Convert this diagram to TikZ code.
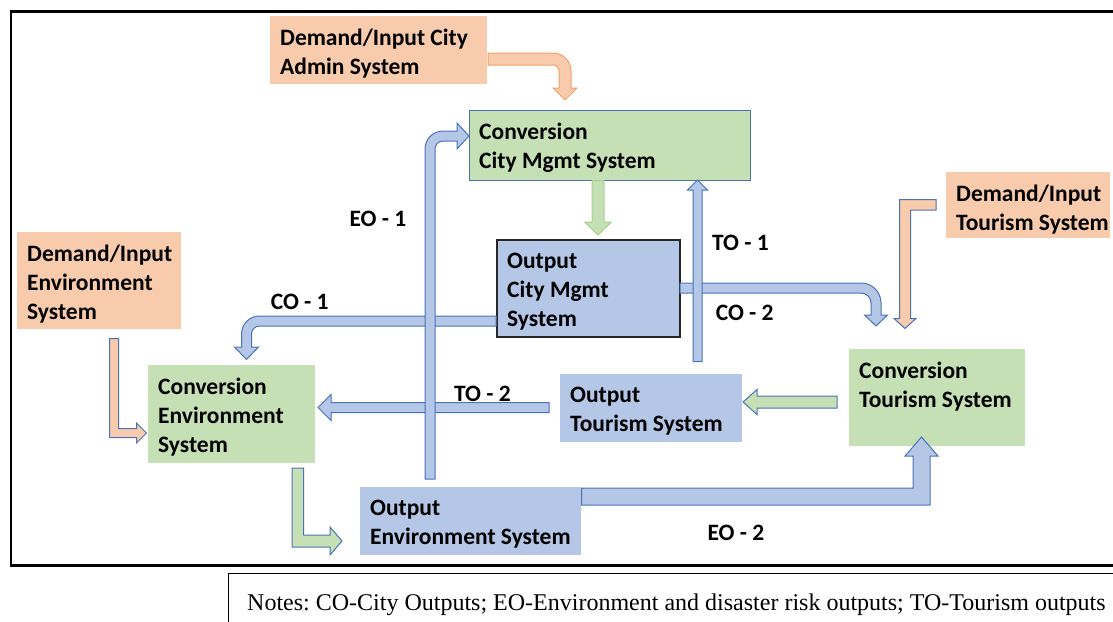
\documentclass[tikz,border=0pt]{standalone}
\usepackage{fontspec}
\setmainfont{Carlito}
\newfontfamily\notesfont{Liberation Serif}
\definecolor{orangefill}{HTML}{F8CBAD}
\definecolor{greenfill}{HTML}{C5E0B4}
\definecolor{bluefill}{HTML}{B4C7E7}
\definecolor{blueedge}{HTML}{4A72B8}
\definecolor{orangeedge}{HTML}{F2A06A}
\definecolor{greenedge}{HTML}{A9D18E}
\definecolor{darkedge}{HTML}{262626}
\newcommand\topstrut{\rule{0pt}{20pt}}
\frenchspacing
\begin{document}
\begin{tikzpicture}[x=1pt,y=-1pt,
  sysbox/.style={anchor=north west, inner sep=0pt, outer sep=0pt, draw=none},
  boxtext/.style={anchor=north west, inner sep=0pt, align=left,
    font=\fontsize{23.5}{29}\selectfont\bfseries, execute at begin node=\topstrut},
  flowlabel/.style={anchor=base, inner sep=0pt, font=\fontsize{23.5}{29}\selectfont\bfseries},
  bluearrow/.style={fill=bluefill, draw=blueedge, line width=1pt, line join=miter},
  greenarrow/.style={fill=greenfill, draw=blueedge, line width=1pt, line join=miter},
  greenarrowg/.style={fill=greenfill, draw=greenedge, line width=1pt, line join=miter},
  orangearrow/.style={fill=orangefill, draw=blueedge, line width=1pt, line join=miter},
  orangearrowo/.style={fill=orangefill, draw=orangeedge, line width=1pt, line join=miter}]
\useasboundingbox (0,0) rectangle (1113,621);

% outer frame and notes box
\draw[line width=2.2pt] (1114,11.5) -- (11,11.5) -- (11,565.5) -- (1114,565.5);
\draw[line width=1pt] (228.5,622) -- (228.5,573.5) -- (1114,573.5);

% system boxes
\node[sysbox, fill=orangefill, minimum width=217, minimum height=68] (admin) at (270,16) {};
\node[sysbox, fill=greenfill, draw=blueedge, line width=0.9pt, minimum width=281, minimum height=70] (ccity) at (469,110) {};
\node[sysbox, fill=bluefill, draw=darkedge, line width=1.2pt, minimum width=183, minimum height=97] (ocity) at (497,240) {};
\node[sysbox, fill=orangefill, minimum width=164, minimum height=66] (dtour) at (946,172) {};
\node[sysbox, fill=orangefill, minimum width=164, minimum height=97] (denv) at (17,232) {};
\node[sysbox, fill=greenfill, minimum width=167, minimum height=98] (cenv) at (148,365) {};
\node[sysbox, fill=bluefill, minimum width=182, minimum height=68] (otour) at (560,374) {};
\node[sysbox, fill=greenfill, minimum width=176, minimum height=97] (ctour) at (849,349) {};
\node[sysbox, fill=bluefill, minimum width=221, minimum height=68] (oenv) at (360,487) {};

% box texts
\node[boxtext] (admin-t) at ([shift={(10,12.5)}]admin.north west) {Demand/Input City\\Admin System};
\node[boxtext] (ccity-t) at ([shift={(10,12.5)}]ccity.north west) {Conversion\\City Mgmt System};
\node[boxtext] (ocity-t) at ([shift={(10,12.5)}]ocity.north west) {Output\\City Mgmt\\System};
\node[boxtext] (dtour-t) at ([shift={(10,12.5)}]dtour.north west) {Demand/Input\\Tourism System};
\node[boxtext] (denv-t) at ([shift={(10,12.5)}]denv.north west) {Demand/Input\\Environment\\System};
\node[boxtext] (cenv-t) at ([shift={(10,12.5)}]cenv.north west) {Conversion\\Environment\\System};
\node[boxtext] (otour-t) at ([shift={(10,12.5)}]otour.north west) {Output\\Tourism System};
\node[boxtext] (ctour-t) at ([shift={(10,12.5)}]ctour.north west) {Conversion\\Tourism System};
\node[boxtext] (oenv-t) at ([shift={(10,12.5)}]oenv.north west) {Output\\Environment System};

% admin demand -> city conversion (bent)
\draw[orangearrowo] (488,53) -- (553,53) .. controls (562.9,53) and (571,61.1) .. (571,71)
  -- (571,88) -- (577,88) -- (565,100) -- (553,88) -- (559,88) -- (559,71)
  .. controls (559,67.7) and (556.3,65) .. (553,65) -- (488,65) -- cycle;

% city conversion -> city output
\draw[greenarrowg] (592,180.5) -- (592,222) -- (584.5,222) -- (598,235) -- (611.5,222) -- (604,222) -- (604,180.5) -- cycle;

% CO-1: city output -> environment conversion
\draw[bluearrow] (496,316) -- (259.5,316) .. controls (249.56,316) and (241.5,324.06) .. (241.5,334)
  -- (241.5,347) -- (234.5,347) -- (246.5,359.5) -- (258.5,347) -- (251.5,347) -- (251.5,334)
  .. controls (251.5,329.58) and (255.08,326) .. (259.5,326) -- (496,326) -- cycle;

% TO-2: tourism output -> environment conversion
\draw[bluearrow] (549,402.5) -- (331,402.5) -- (331,394.5) -- (318,407.5) -- (331,420.5) -- (331,412.5) -- (549,412.5) -- cycle;

% EO-1: environment output -> city conversion
\draw[bluearrow] (425,479) -- (425,149) .. controls (425,139.06) and (433.06,131) .. (443,131)
  -- (457,131) -- (457,123) -- (469,136) -- (457,149) -- (457,141) -- (443,141)
  .. controls (438.58,141) and (435,144.58) .. (435,149) -- (435,479) -- cycle;

% CO-2: city output -> tourism conversion
\draw[bluearrow] (680,283) -- (861,283) .. controls (872.04,283) and (881,291.96) .. (881,303)
  -- (881,315) -- (887.5,315) -- (876,326) -- (864.5,315) -- (871,315) -- (871,303)
  .. controls (871,297.48) and (866.52,293) .. (861,293) -- (680,293) -- cycle;

% TO-1: tourism output -> city conversion
\draw[bluearrow] (693,361.5) -- (693,190) -- (687.5,190) -- (697.5,180) -- (707.5,190) -- (702,190) -- (702,361.5) -- cycle;

% tourism conversion -> tourism output
\draw[greenarrow] (837,396) -- (757,396) -- (757,389.5) -- (743,402) -- (757,414.5) -- (757,408) -- (837,408) -- cycle;

% EO-2: environment output -> tourism conversion
\draw[bluearrow] (581.5,488) -- (913,488) -- (913,456) -- (905,456) -- (921.5,437) -- (938,456) -- (930,456) -- (930,505) -- (581.5,505) -- cycle;

% environment conversion -> environment output
\draw[greenarrow] (292,468) -- (292,547) -- (330,547) -- (330,555) -- (342,541) -- (330,527) -- (330,535) -- (303.5,535) -- (303.5,468) -- cycle;

% environment demand -> environment conversion
\draw[orangearrow] (109.5,338.5) -- (109.5,437.5) -- (136.5,437.5) -- (136.5,443) -- (146.5,433) -- (136.5,423) -- (136.5,428.5) -- (118.5,428.5) -- (118.5,338.5) -- cycle;

% tourism demand -> tourism conversion
\draw[orangearrow] (936,199.5) -- (899.5,199.5) -- (899.5,318.5) -- (894,318.5) -- (905,328.5) -- (916,318.5) -- (910.5,318.5) -- (910.5,210) -- (936,210) -- cycle;

% flow labels
\node[flowlabel] (l-eo1) at (378,226) {EO - 1};
\node[flowlabel] (l-to1) at (740.5,250) {TO - 1};
\node[flowlabel] (l-co1) at (299.7,309.3) {CO - 1};
\node[flowlabel] (l-co2) at (744.7,320) {CO - 2};
\node[flowlabel] (l-to2) at (482.5,401) {TO - 2};
\node[flowlabel] (l-eo2) at (736,540) {EO - 2};

% notes
\node[anchor=base west, inner sep=0pt, font=\notesfont\fontsize{24}{28}\selectfont] (notes) at (247,610)
  {Notes: CO-City Outputs; EO-Environment and disaster risk outputs; TO-Tourism outputs};
\end{tikzpicture}
\end{document}
